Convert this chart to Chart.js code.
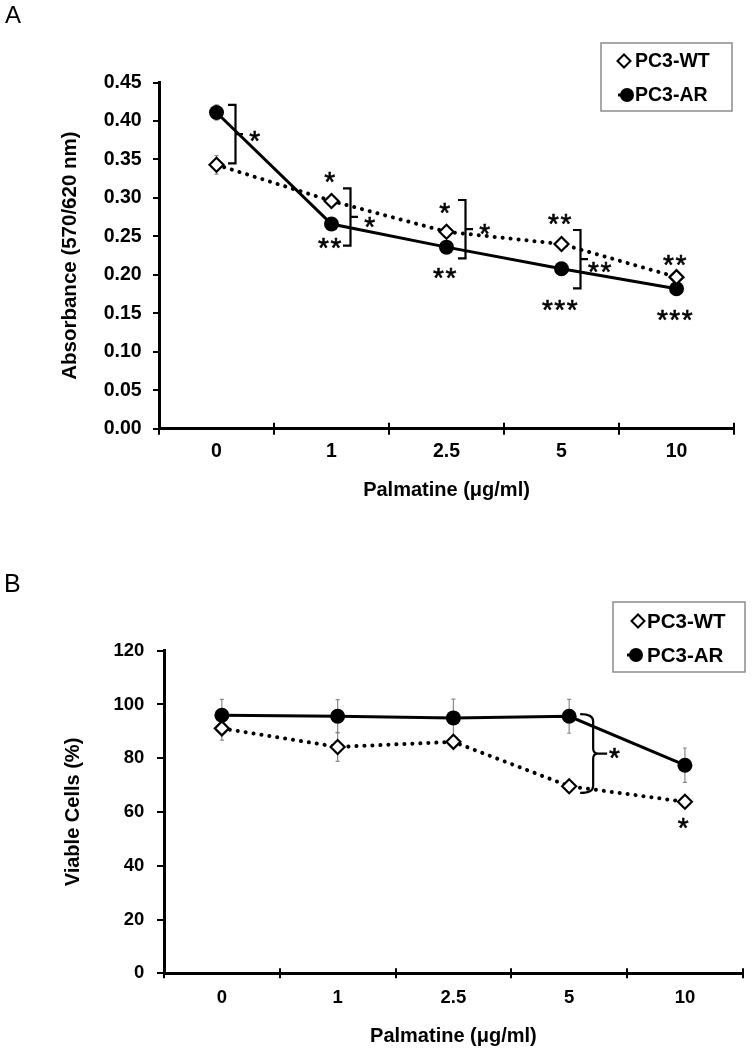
<!DOCTYPE html>
<html><head><meta charset="utf-8">
<script src="https://cdn.jsdelivr.net/npm/chart.js@4.4.1/dist/chart.umd.min.js"></script>
<style>
html,body{margin:0;padding:0;background:#fff;}
#wrap{position:relative;width:752px;height:1050px;overflow:hidden;}
.box{position:absolute;left:0;width:752px;}
#boxA{top:0;height:545px;}
#boxB{top:545px;height:505px;}
</style></head><body>
<div id="wrap">
<div class="box" id="boxA"><canvas id="chartA"></canvas></div>
<div class="box" id="boxB"><canvas id="chartB"></canvas></div>
</div>
<script>
// ---------- data ----------
const doses = ['0', '1', '2.5', '5', '10'];
const seriesNames = ['PC3-WT', 'PC3-AR'];

// Panel A: absorbance
const absWT = [0.343, 0.296, 0.256, 0.240, 0.197];
const absAR = [0.411, 0.266, 0.236, 0.208, 0.182];
const absWTerr = [0.012, 0.006, 0.006, 0.005, 0.005];
const absARerr = [0.010, 0.006, 0.006, 0.005, 0.005];
const absTicks = [0, 0.05, 0.10, 0.15, 0.20, 0.25, 0.30, 0.35, 0.40, 0.45];
const absTickLabels = ['0.00', '0.05', '0.10', '0.15', '0.20', '0.25', '0.30', '0.35', '0.40', '0.45'];
// significance marks: [category index, value, text]
const absStars = [[1, 0.3268, '*'], [1, 0.2418, '**'], [2, 0.2865, '*'], [2, 0.2020, '**'],
                  [3, 0.2722, '**'], [3, 0.1608, '***'], [4, 0.2193, '**'], [4, 0.1479, '***']];
// brackets: [category index, top value, bottom value, text, text value]
const absBrackets = [[0, 0.421, 0.345, '*', 0.3805], [1, 0.3125, 0.238, '*', 0.2691],
                     [2, 0.2973, 0.2215, '*', 0.2592], [3, 0.2583, 0.1825, '**', 0.2106]];

// Panel B: viable cells
const viaWT = [91.1, 84.2, 86.1, 69.6, 63.8];
const viaAR = [96.0, 95.6, 95.0, 95.6, 77.4];
const viaWTerr = [4.4, 5.4, 2.0, 1.5, 1.5];
const viaARerr = [5.9, 6.2, 7.0, 6.3, 6.4];
const viaTicks = [0, 20, 40, 60, 80, 100, 120];
const viaTickLabels = ['0', '20', '40', '60', '80', '100', '120'];
const viaStars = [[4, 56.0, '*']];
const viaBrackets = [[3, 96.4, 67.1, '*', 81.9]];

// ---------- helpers ----------
const FONT = '"Liberation Sans", Arial, Helvetica, sans-serif';
Chart.defaults.color = '#000';
Chart.defaults.font.family = FONT;

function drawStarText(ctx, text, cx, cy) {
  ctx.save();
  ctx.font = '28px ' + FONT;
  ctx.fillStyle = '#000';
  ctx.strokeStyle = '#000';
  ctx.lineWidth = 0.6;
  ctx.textAlign = 'center';
  ctx.textBaseline = 'alphabetic';
  try { ctx.letterSpacing = '1.5px'; } catch (e) {}
  const m = ctx.measureText('*');
  const base = cy + (m.actualBoundingBoxAscent - m.actualBoundingBoxDescent) / 2;
  ctx.fillText(text, cx, base);
  ctx.strokeText(text, cx, base);
  ctx.restore();
}

function decorPlugin(p) {
  return {
    id: 'decor',
    beforeDatasetsDraw(chart) {
      const ctx = chart.ctx, xs = chart.scales.x, ys = chart.scales.y;
      ctx.save();
      ctx.strokeStyle = '#8a8a8a';
      ctx.lineWidth = 1.2;
      chart.data.datasets.forEach((ds, d) => {
        ds.data.forEach((v, i) => {
          const e = p.errors[d][i];
          const x = xs.getPixelForValue(i);
          const y1 = ys.getPixelForValue(v + e), y2 = ys.getPixelForValue(v - e);
          ctx.beginPath();
          ctx.moveTo(x, y1); ctx.lineTo(x, y2);
          ctx.moveTo(x - 2, y1); ctx.lineTo(x + 2, y1);
          ctx.moveTo(x - 2, y2); ctx.lineTo(x + 2, y2);
          ctx.stroke();
        });
      });
      ctx.restore();
    },
    afterDraw(chart) {
      const ctx = chart.ctx, xs = chart.scales.x, ys = chart.scales.y;
      const n = chart.data.labels.length;
      ctx.save();
      // inner half of the crossing x tick marks
      ctx.strokeStyle = '#000';
      ctx.lineWidth = 2;
      for (let i = 0; i <= n; i++) {
        const x = Math.round(xs.getPixelForValue(i - 0.5));
        ctx.beginPath();
        ctx.moveTo(x, ys.bottom);
        ctx.lineTo(x, ys.bottom - p.tickIn);
        ctx.stroke();
      }
      // brackets
      ctx.lineWidth = 2.2;
      p.brackets.forEach(b => {
        const x = xs.getPixelForValue(b[0]) + p.bdx;
        const yt = ys.getPixelForValue(b[1]), yb = ys.getPixelForValue(b[2]);
        const ym = (yt + yb) / 2;
        ctx.beginPath();
        if (p.curly) {
          ctx.moveTo(x - 13, yt);
          ctx.quadraticCurveTo(x, yt, x, yt + 7);
          ctx.lineTo(x, ym - 5);
          ctx.quadraticCurveTo(x, ym, x + 5, ym);
          ctx.lineTo(x + 14, ym);
          ctx.moveTo(x + 5, ym);
          ctx.quadraticCurveTo(x, ym, x, ym + 5);
          ctx.lineTo(x, yb - 7);
          ctx.quadraticCurveTo(x, yb, x - 13, yb);
        } else {
          ctx.moveTo(x - 7.5, yt);
          ctx.lineTo(x, yt);
          ctx.lineTo(x, yb);
          ctx.lineTo(x - 7.5, yb);
          ctx.moveTo(x, ym);
          ctx.lineTo(x + 7.5, ym);
        }
        ctx.stroke();
        drawStarText(ctx, b[3], x + p.sdx, ys.getPixelForValue(b[4]));
      });
      // stars above / below points
      p.stars.forEach(s => {
        drawStarText(ctx, s[2], xs.getPixelForValue(s[0]) - 1, ys.getPixelForValue(s[1]));
      });
      // legend
      const L = p.legend;
      ctx.fillStyle = '#fff';
      ctx.fillRect(L.x, L.y, L.w, L.h);
      ctx.strokeStyle = '#8c8c8c';
      ctx.lineWidth = 1.5;
      ctx.strokeRect(L.x, L.y, L.w, L.h);
      ctx.font = 'bold ' + L.font + 'px ' + FONT;
      ctx.textAlign = 'left';
      ctx.textBaseline = 'middle';
      chart.data.datasets.forEach((ds, d) => {
        const cy = L.rows[d];
        const mx = L.mx[d];
        ctx.beginPath();
        if (ds.pointStyle === 'rectRot') {
          const r = 6.5;
          ctx.moveTo(mx - r, cy); ctx.lineTo(mx, cy - r); ctx.lineTo(mx + r, cy); ctx.lineTo(mx, cy + r);
          ctx.closePath();
          ctx.fillStyle = '#fff'; ctx.fill();
          ctx.strokeStyle = '#000'; ctx.lineWidth = 2; ctx.stroke();
        } else {
          ctx.strokeStyle = '#000'; ctx.lineWidth = 3;
          ctx.moveTo(mx - 9, cy); ctx.lineTo(mx, cy); ctx.stroke();
          ctx.beginPath();
          ctx.arc(mx, cy, 7, 0, Math.PI * 2);
          ctx.fillStyle = '#000'; ctx.fill();
        }
        ctx.fillStyle = '#000';
        ctx.fillText(ds.label, L.tx, cy + 1);
      });
      // panel letter
      ctx.font = p.letter.size + 'px ' + FONT;
      ctx.textBaseline = 'alphabetic';
      ctx.textAlign = 'left';
      ctx.fillText(p.letter.text, p.letter.x, p.letter.y);
      ctx.restore();
    }
  };
}

function makeChart(id, cfg) {
  return new Chart(document.getElementById(id), {
    type: 'line',
    data: {
      labels: doses,
      datasets: [
        { label: seriesNames[0], data: cfg.wt, borderColor: '#000', borderWidth: 4,
          borderDash: [0.1, 7.9], borderCapStyle: 'round', pointStyle: 'rectRot',
          pointRadius: 7, pointBackgroundColor: '#fff', pointBorderColor: '#000',
          pointBorderWidth: 2.2, fill: false, tension: 0 },
        { label: seriesNames[1], data: cfg.ar, borderColor: '#000', borderWidth: 3,
          pointStyle: 'circle', pointRadius: 7.5, pointBackgroundColor: '#000',
          pointBorderColor: '#000', pointBorderWidth: 0, fill: false, tension: 0 }
      ]
    },
    options: {
      responsive: true, maintainAspectRatio: false, animation: false, devicePixelRatio: 1,
      layout: { padding: cfg.padding },
      plugins: { legend: { display: false }, tooltip: { enabled: false } },
      scales: {
        x: {
          type: 'category', offset: true,
          grid: { offset: true, drawOnChartArea: false, drawTicks: true, tickLength: cfg.xTick,
                  lineWidth: 2, color: '#000' },
          border: { display: true, width: 3, color: '#000' },
          ticks: { font: { size: cfg.tickFont, weight: 'bold' }, padding: cfg.xPad, color: '#000',
                   maxRotation: 0, autoSkip: false },
          title: { display: true, text: 'Palmatine (μg/ml)', font: { size: cfg.xTitleFont, weight: 'bold' },
                   padding: 0, color: '#000' },
          afterFit: s => { s.height = cfg.xHeight; }
        },
        y: {
          min: cfg.min, max: cfg.max,
          afterBuildTicks: s => { s.ticks = cfg.ticks.map(v => ({ value: v })); },
          grid: { drawOnChartArea: false, drawTicks: true, tickLength: cfg.yTick, lineWidth: 2, color: '#000' },
          border: { display: true, width: 3, color: '#000' },
          ticks: { font: { size: cfg.tickFont, weight: 'bold' }, padding: cfg.yPad, color: '#000',
                   autoSkip: false, callback: (v, i) => cfg.tickLabels[i] },
          title: { display: true, text: cfg.yTitle, font: { size: cfg.yTitleFont, weight: 'bold' },
                   padding: 0, color: '#000' },
          afterFit: s => { s.width = cfg.yWidth; }
        }
      }
    },
    plugins: [decorPlugin(cfg.decor)]
  });
}

makeChart('chartA', {
  wt: absWT, ar: absAR, min: 0, max: 0.45, ticks: absTicks, tickLabels: absTickLabels,
  yTitle: 'Absorbance (570/620 nm)',
  padding: { left: 57.7, top: 82.5, right: 18, bottom: 43 },
  yWidth: 101.3, xHeight: 73.3, xTick: 6, yTick: 6, xPad: 5.3, yPad: 11.3,
  tickFont: 19.5, xTitleFont: 20, yTitleFont: 20.5,
  decor: {
    errors: [absWTerr, absARerr], brackets: absBrackets, stars: absStars,
    bdx: 19, sdx: 20, curly: false, tickIn: 6,
    legend: { x: 601, y: 43, w: 131, h: 68, font: 19.5, rows: [61, 95], mx: [624, 627], tx: 635 },
    letter: { text: 'A', x: 5, y: 23.3, size: 24 }
  }
});

makeChart('chartB', {
  wt: viaWT, ar: viaAR, min: 0, max: 120, ticks: viaTicks, tickLabels: viaTickLabels,
  yTitle: 'Viable Cells (%)',
  padding: { left: 61, top: 105.7, right: 3, bottom: 1.3 },
  yWidth: 103, xHeight: 75.4, xTick: 5, yTick: 7, xPad: 8.9, yPad: 12.7,
  tickFont: 18.5, xTitleFont: 20, yTitleFont: 20,
  decor: {
    errors: [viaWTerr, viaARerr], brackets: viaBrackets, stars: viaStars,
    bdx: 24, sdx: 22, curly: true, tickIn: 5,
    legend: { x: 613, y: 57, w: 132, h: 70, font: 20.5, rows: [76, 110], mx: [638, 636], tx: 647 },
    letter: { text: 'B', x: 4, y: 46.7, size: 25 }
  }
});
</script>
</body></html>
